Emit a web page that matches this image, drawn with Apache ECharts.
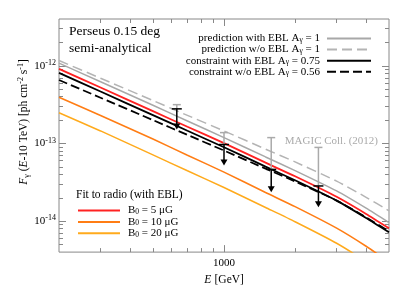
<!DOCTYPE html>
<html><head><meta charset="utf-8">
<script src="https://cdn.jsdelivr.net/npm/echarts@6/dist/echarts.min.js"></script>
<style>html,body{margin:0;padding:0;background:#fff}#c{width:407px;height:291px}</style>
</head><body><div id="c"></div>
<script>
// ---- data ----
const energies = [200, 300, 500, 700, 1000, 1500, 2000, 3000, 4000, 5000]; // GeV
const predWithEBL   = [1.08e-12, 6.22e-13, 3.10e-13, 1.95e-13, 1.19e-13, 6.71e-14, 4.48e-14, 2.45e-14, 1.47e-14, 9.6e-15];
const predNoEBL     = [1.17e-12, 6.92e-13, 3.57e-13, 2.30e-13, 1.45e-13, 8.45e-14, 5.79e-14, 3.28e-14, 2.03e-14, 1.36e-14];
const constrWithEBL = [8.12e-13, 4.66e-13, 2.32e-13, 1.46e-13, 8.95e-14, 5.03e-14, 3.36e-14, 1.84e-14, 1.10e-14, 7.2e-15];
const constrNoEBL   = [6.56e-13, 3.88e-13, 2.00e-13, 1.29e-13, 8.11e-14, 4.74e-14, 3.25e-14, 1.84e-14, 1.12e-14, 7.4e-15];
const radioB5       = [9.14e-13, 5.25e-13, 2.61e-13, 1.64e-13, 1.01e-13, 5.66e-14, 3.78e-14, 2.06e-14, 1.24e-14, 8.1e-15];
const radioB10      = [3.94e-13, 2.29e-13, 1.14e-13, 7.07e-14, 4.28e-14, 2.34e-14, 1.54e-14, 8.14e-15, 4.76e-15, 2.97e-15];
const radioB20      = [2.49e-13, 1.45e-13, 7.13e-14, 4.45e-14, 2.71e-14, 1.50e-14, 9.84e-15, 5.20e-15, 3.01e-15, 1.88e-15];

const ulEnergy      = [631, 1000, 1585, 2512];
const magicTop      = [3.16e-13, 1.38e-13, 1.19e-13, 8.9e-14];
const constraintUL  = [2.79e-13, 9.7e-14, 4.64e-14, 2.84e-14];
const arrowEnd      = [1.51e-13, 5.22e-14, 2.35e-14, 1.51e-14];

const xMajorTicks = [1000];
const xMinorTicks = [300, 400, 500, 600, 700, 800, 900, 2000, 3000, 4000];
const xLabels = [1000];
const yMajorTicks = [1e-14, 1e-13, 1e-12];
const yMinorTicks = [5e-15, 6e-15, 7e-15, 8e-15, 9e-15,
  2e-14, 3e-14, 4e-14, 5e-14, 6e-14, 7e-14, 8e-14, 9e-14,
  2e-13, 3e-13, 4e-13, 5e-13, 6e-13, 7e-13, 8e-13, 9e-13,
  2e-12, 3e-12];
const yLabels = [1e-14, 1e-13, 1e-12];

const seriesNames = [
  'prediction with EBL A_γ = 1',
  'prediction w/o EBL A_γ = 1',
  'constraint with EBL A_γ = 0.75',
  'constraint w/o EBL A_γ = 0.56',
  'B_0 = 5 μG',
  'B_0 = 10 μG',
  'B_0 = 20 μG'
];

// ---- chart ----
const FONT = '"Liberation Serif", "DejaVu Serif", serif';
const TICK = '#888';
const chart = echarts.init(document.getElementById('c'));

function xAxisDef(pos, ticks, len, labels) {
  return {
    type: 'log', logBase: 10, min: 200, max: 5000, position: pos, gridIndex: 0,
    axisLine: { show: false }, splitLine: { show: false },
    axisTick: { show: true, inside: true, length: len, customValues: ticks, lineStyle: { color: TICK, width: 1 } },
    axisLabel: labels ? { show: true, customValues: labels, margin: 6, color: '#000', fontFamily: FONT, fontSize: 11,
      formatter: v => String(Math.round(v)) } : { show: false }
  };
}
function yAxisDef(pos, ticks, len, labels) {
  return {
    type: 'log', logBase: 10, min: 4e-15, max: 4e-12, position: pos, gridIndex: 0,
    axisLine: { show: false }, splitLine: { show: false },
    axisTick: { show: true, inside: true, length: len, customValues: ticks, lineStyle: { color: TICK, width: 1 } },
    axisLabel: labels ? { show: true, customValues: labels, margin: 3, color: '#000',
      formatter: v => '{b|10}{s|' + Math.round(Math.log10(v)) + '}',
      rich: {
        b: { fontFamily: FONT, fontSize: 11, lineHeight: 14, color: '#000' },
        s: { fontFamily: FONT, fontSize: 8, lineHeight: 14, verticalAlign: 'top', color: '#000' }
      } } : { show: false }
  };
}

function fmtName(name) {
  const m = name.match(/^(.*?)([AB])_(.)(.*)$/);
  if (!m) return '{n|' + name + '}';
  return '{n|' + m[1] + m[2] + '}{sub|' + m[3] + '}{n|' + m[4] + '}';
}
const legendRich = {
  n: { fontFamily: FONT, fontSize: 11, lineHeight: 11, color: '#000' },
  sub: { fontFamily: FONT, fontSize: 7.5, lineHeight: 11, verticalAlign: 'bottom', color: '#000' }
};

function lineSeries(name, vals, color, width, dash, z) {
  return {
    name, type: 'line', xAxisIndex: 0, yAxisIndex: 0,
    data: energies.map((e, i) => [e, vals[i]]),
    symbol: 'none', showSymbol: false, smooth: 0.2, clip: true, z,
    lineStyle: { color, width, type: dash || 'solid' },
    itemStyle: { color }, emphasis: { disabled: true }
  };
}

const option = {
  animation: false,
  backgroundColor: '#fff',
  grid: { left: 59, right: 18, top: 19, bottom: 38, show: true, borderColor: TICK, borderWidth: 1, backgroundColor: 'transparent' },
  xAxis: [
    Object.assign(xAxisDef('bottom', xMajorTicks, 7, xLabels), {
      name: '{i|E} {n|[GeV]}', nameLocation: 'middle', nameGap: 17,
      nameTextStyle: { rich: {
        i: { fontFamily: FONT, fontSize: 11.5, fontStyle: 'italic', color: '#000' },
        n: { fontFamily: FONT, fontSize: 11.5, color: '#000' } } }
    }),
    xAxisDef('bottom', xMinorTicks, 4, null),
    xAxisDef('top', xMajorTicks, 7, null),
    xAxisDef('top', xMinorTicks, 4, null)
  ],
  yAxis: [
    yAxisDef('left', yMajorTicks, 7, yLabels),
    yAxisDef('left', yMinorTicks, 4, null),
    yAxisDef('right', yMajorTicks, 7, null),
    yAxisDef('right', yMinorTicks, 4, null)
  ],
  legend: [
    {
      data: seriesNames.slice(0, 4), orient: 'vertical', align: 'right',
      right: 35, top: 33, padding: 0, itemGap: 0.1, itemWidth: 44, itemHeight: 10,
      selectedMode: false, formatter: fmtName, itemStyle: { opacity: 0 },
      textStyle: { rich: legendRich, fontFamily: FONT, fontSize: 11, padding: [0, 2, 0, 0] }
    },
    {
      data: seriesNames.slice(4), orient: 'vertical', align: 'left',
      left: 77, top: 205, padding: 0, itemGap: 0.4, itemWidth: 42, itemHeight: 10,
      selectedMode: false, formatter: fmtName, itemStyle: { opacity: 0 },
      textStyle: { rich: legendRich, fontFamily: FONT, fontSize: 11, padding: [0, 0, 0, 3] }
    }
  ],
  graphic: [
    { type: 'text', x: 69, y: 31, style: { text: 'Perseus 0.15 deg', font: '13.5px ' + FONT, fill: '#000', verticalAlign: 'middle' } },
    { type: 'text', x: 69, y: 48, style: { text: 'semi-analytical', font: '13.5px ' + FONT, fill: '#000', verticalAlign: 'middle' } },
    { type: 'text', x: 378, y: 141, style: { text: 'MAGIC Coll. (2012)', font: '11px ' + FONT, fill: '#aaaaaa', align: 'right', verticalAlign: 'middle' } },
    { type: 'text', x: 76, y: 195, style: { text: 'Fit to radio (with EBL)', font: '11.5px ' + FONT, fill: '#000', verticalAlign: 'middle' } },
    { type: 'text', x: 24, y: 122, rotation: Math.PI / 2,
      style: {
        text: '{i|F}{sub|γ}{n| (}{i|E}{n|-10 TeV) [ph cm}{sup|-2}{n| s}{sup|-1}{n|]}',
        align: 'center', verticalAlign: 'middle', fill: '#000',
        rich: {
          i: { fontFamily: FONT, fontSize: 11.5, fontStyle: 'italic', lineHeight: 14 },
          n: { fontFamily: FONT, fontSize: 11.5, lineHeight: 14 },
          sub: { fontFamily: FONT, fontSize: 8, lineHeight: 14, verticalAlign: 'bottom' },
          sup: { fontFamily: FONT, fontSize: 8, lineHeight: 14, verticalAlign: 'top' }
        }
      } }
  ],
  series: [
    lineSeries(seriesNames[1], predNoEBL, '#b4b4b4', 1.5, [10, 5], 2),
    lineSeries(seriesNames[0], predWithEBL, '#a8a8a8', 1.5, null, 2),
    lineSeries(seriesNames[6], radioB20, '#ffaa1c', 1.5, null, 3),
    lineSeries(seriesNames[5], radioB10, '#ff7d14', 1.6, null, 3),
    lineSeries(seriesNames[3], constrNoEBL, '#000000', 1.8, [9, 4], 4),
    lineSeries(seriesNames[2], constrWithEBL, '#000000', 1.8, null, 4),
    lineSeries(seriesNames[4], radioB5, '#ff2222', 1.8, null, 5),
    {
      type: 'custom', xAxisIndex: 0, yAxisIndex: 0, z: 6, clip: false,
      data: ulEnergy.map((e, i) => [e, magicTop[i], constraintUL[i]]),
      renderItem(params, api) {
        const t = api.coord([api.value(0), api.value(1)]);
        const b = api.coord([api.value(0), api.value(2)]);
        const st = { stroke: '#aaaaaa', lineWidth: 1.5 };
        return { type: 'group', children: [
          { type: 'line', shape: { x1: t[0], y1: t[1], x2: b[0], y2: b[1] }, style: st },
          { type: 'line', shape: { x1: t[0] - 4, y1: t[1], x2: t[0] + 4, y2: t[1] }, style: st }
        ] };
      }
    },
    {
      type: 'custom', xAxisIndex: 0, yAxisIndex: 0, z: 7, clip: false,
      data: ulEnergy.map((e, i) => [e, constraintUL[i], arrowEnd[i]]),
      renderItem(params, api) {
        const t = api.coord([api.value(0), api.value(1)]);
        const b = api.coord([api.value(0), api.value(2)]);
        const st = { stroke: '#000', lineWidth: 1.5 };
        return { type: 'group', children: [
          { type: 'line', shape: { x1: t[0], y1: t[1], x2: b[0], y2: b[1] - 4 }, style: st },
          { type: 'line', shape: { x1: t[0] - 5, y1: t[1], x2: t[0] + 5, y2: t[1] }, style: st },
          { type: 'polygon', shape: { points: [[b[0] - 3.5, b[1] - 6], [b[0] + 3.5, b[1] - 6], [b[0], b[1]]] }, style: { fill: '#000' } }
        ] };
      }
    }
  ]
};
chart.setOption(option);
</script></body></html>
